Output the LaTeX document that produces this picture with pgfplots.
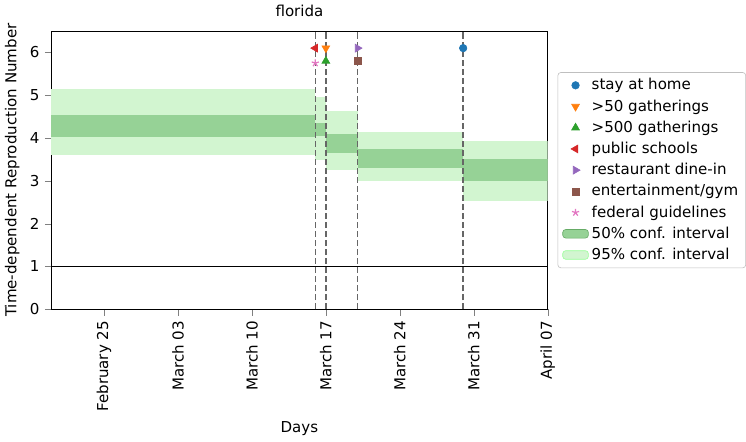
\documentclass[border=0pt]{standalone}
\usepackage{pgfplots}
\pgfplotsset{compat=1.18}
\usepackage{fontspec}
\setmainfont{DejaVu Sans}
\definecolor{c1}{HTML}{1F77B4}\definecolor{c2}{HTML}{FF7F0E}\definecolor{c3}{HTML}{2CA02C}
\definecolor{c4}{HTML}{D62728}\definecolor{c5}{HTML}{9467BD}\definecolor{c6}{HTML}{8C564B}\definecolor{c7}{HTML}{E377C2}
\definecolor{b50}{RGB}{150,210,150}\definecolor{b95}{RGB}{210,245,208}
\begin{document}
\begin{tikzpicture}
\begin{axis}[scale only axis, width=330pt, height=185pt,
 xmin=0, xmax=47, ymin=0, ymax=6.5,
 xtick={5,12,19,26,33,40,47},
 xticklabels={February 25,March 03,March 10,March 17,March 24,March 31,April 07},
 xticklabel style={rotate=90, anchor=east},
 ytick={0,1,2,3,4,5,6},
 /pgf/number format/assume math mode=true,
 font=\normalsize,
 title={florida}, xlabel={Days}, ylabel={Time-dependent Reproduction Number},
 tick align=outside, tick pos=left,
 legend style={at={(1.02,0.5)}, anchor=west, font=\normalsize, draw=gray!50, rounded corners=2pt, row sep=1pt},
 legend cell align=left]
\addplot[fill=b95, draw=none, forget plot] coordinates {(0,3.6)(25,3.6)(25,5.15)(0,5.15)} -- cycle;
\addplot[fill=b95, draw=none, forget plot] coordinates {(25,3.48)(26,3.48)(26,4.95)(25,4.95)} -- cycle;
\addplot[fill=b95, draw=none, forget plot] coordinates {(26,3.25)(29,3.25)(29,4.62)(26,4.62)} -- cycle;
\addplot[fill=b95, draw=none, forget plot] coordinates {(29,3.0)(39,3.0)(39,4.15)(29,4.15)} -- cycle;
\addplot[fill=b95, draw=none, forget plot] coordinates {(39,2.52)(47,2.52)(47,3.92)(39,3.92)} -- cycle;
\addplot[fill=b50, draw=none, forget plot] coordinates {(0,4.02)(25,4.02)(25,4.53)(0,4.53)} -- cycle;
\addplot[fill=b50, draw=none, forget plot] coordinates {(25,4.05)(26,4.05)(26,4.36)(25,4.36)} -- cycle;
\addplot[fill=b50, draw=none, forget plot] coordinates {(26,3.65)(29,3.65)(29,4.1)(26,4.1)} -- cycle;
\addplot[fill=b50, draw=none, forget plot] coordinates {(29,3.3)(39,3.3)(39,3.75)(29,3.75)} -- cycle;
\addplot[fill=b50, draw=none, forget plot] coordinates {(39,3.0)(47,3.0)(47,3.5)(39,3.5)} -- cycle;
\addplot[black, line width=1.1pt, forget plot] coordinates {(0,1)(47,1)};
\addplot[gray!80!black, dash pattern=on 4pt off 2pt, line width=1pt, forget plot] coordinates {(25,0)(25,6.5)};
\addplot[gray!80!black, dash pattern=on 4pt off 2pt, line width=1pt, forget plot] coordinates {(26,0)(26,6.5)};
\addplot[gray!80!black, dash pattern=on 4pt off 2pt, line width=1pt, forget plot] coordinates {(29,0)(29,6.5)};
\addplot[gray!80!black, dash pattern=on 4pt off 2pt, line width=1pt, forget plot] coordinates {(39,0)(39,6.5)};
\addplot[only marks, mark=*, c1, mark size=2.5pt] coordinates {(39,6.1)};
\addlegendentry{stay at home}
\addplot[only marks, mark=triangle*, mark options={rotate=180}, c2, mark size=3pt] coordinates {(26,6.1)};
\addlegendentry{>50 gatherings}
\addplot[only marks, mark=triangle*, c3, mark size=3pt] coordinates {(26,5.8)};
\addlegendentry{>500 gatherings}
\addplot[only marks, mark=triangle*, mark options={rotate=90}, c4, mark size=3pt] coordinates {(25,6.1)};
\addlegendentry{public schools}
\addplot[only marks, mark=triangle*, mark options={rotate=-90}, c5, mark size=3pt] coordinates {(29,6.1)};
\addlegendentry{restaurant dine-in}
\addplot[only marks, mark=square*, c6, mark size=2.3pt] coordinates {(29,5.8)};
\addlegendentry{entertainment/gym}
\addplot[only marks, mark=star, c7, mark size=2.5pt, thick] coordinates {(25,5.75)};
\addlegendentry{federal guidelines}
\addlegendimage{area legend, fill=b50, draw=green!45!black!60}
\addlegendentry{50\% conf. interval}
\addlegendimage{area legend, fill=b95, draw=green!40}
\addlegendentry{95\% conf. interval}
\end{axis}
\end{tikzpicture}
\end{document}
